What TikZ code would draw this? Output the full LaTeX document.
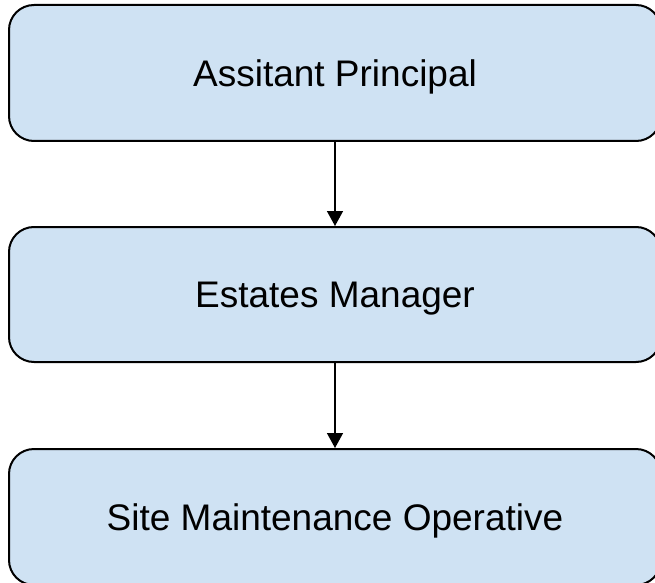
\documentclass[tikz,border=0pt]{standalone}
\usepackage{fontspec}
\setmainfont{Liberation Sans}
\usetikzlibrary{arrows.meta}
\definecolor{boxfill}{HTML}{CFE2F3}
\begin{document}
\begin{tikzpicture}[x=1pt,y=1pt,
  orgbox/.style={draw=black, line width=2pt, fill=boxfill, rounded corners=25pt,
    minimum width=652pt, minimum height=136pt, inner sep=0pt, text depth=0pt,
    font=\fontsize{37}{44}\selectfont},
  link/.style={line width=1.5pt, -{Triangle[width=16pt,length=15pt]}}]
\useasboundingbox (0,0) rectangle (655,582);
\node[orgbox] (ap) at (335,509) {Assitant Principal};
\node[orgbox, minimum height=135pt] (em) at (335,287.5) {Estates Manager};
\node[orgbox] (smo) at (335,65) {Site Maintenance Operative};
\draw[link] (ap) -- (em);
\draw[link] (em) -- (smo);
\end{tikzpicture}
\end{document}
